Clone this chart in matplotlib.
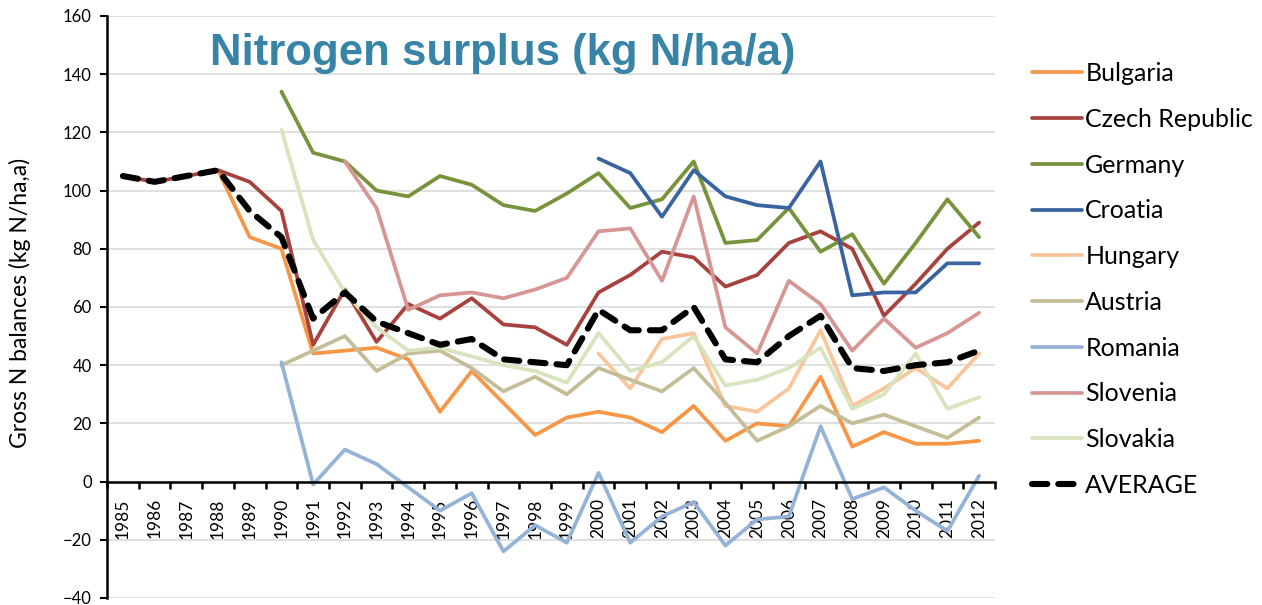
import numpy as np
import matplotlib
matplotlib.use("Agg")
import matplotlib.pyplot as plt

nan = np.nan

# years on the category axis
years = list(range(1985, 2013))

# values (kg N/ha/a)
bulgaria = [nan, nan, nan, 107, 84, 80, 44, 45, 46, 42, 24, 38, 27, 16, 22,
            24, 22, 17, 26, 14, 20, 19, 36, 12, 17, 13, 13, 14]
czech = [105, 103, 105, 107, 103, 93, 47, 66, 48, 61, 56, 63, 54, 53, 47,
         65, 71, 79, 77, 67, 71, 82, 86, 80, 57, 68, 80, 89]
germany = [nan, nan, nan, nan, nan, 134, 113, 110, 100, 98, 105, 102, 95, 93, 99,
           106, 94, 97, 110, 82, 83, 94, 79, 85, 68, 82, 97, 84]
croatia = [nan] * 15 + [111, 106, 91, 107, 98, 95, 94, 110, 64, 65, 65, 75, 75]
hungary = [nan] * 15 + [44, 32, 49, 51, 26, 24, 32, 52, 26, 32, 39, 32, 44]
austria = [nan, nan, nan, nan, nan, 40, 45, 50, 38, 44, 45, 39, 31, 36, 30,
           39, 35, 31, 39, 27, 14, 19, 26, 20, 23, 19, 15, 22]
romania = [nan, nan, nan, nan, nan, 41, -1, 11, 6, -2, -10, -4, -24, -15, -21,
           3, -21, -12, -7, -22, -13, -12, 19, -6, -2, -10, -17, 2]
slovenia = [nan] * 7 + [110, 94, 59, 64, 65, 63, 66, 70,
                        86, 87, 69, 98, 53, 44, 69, 61, 45, 56, 46, 51, 58]
slovakia = [nan, nan, nan, nan, nan, 121, 83, 65, 53, 45, 46, 43, 40, 38, 34,
            51, 38, 41, 50, 33, 35, 39, 46, 25, 30, 44, 25, 29]
average = [105, 103, 105, 107, 93, 84, 56, 65, 55, 51, 47, 49, 42, 41, 40,
           59, 52, 52, 60, 42, 41, 50, 57, 39, 38, 40, 41, 45]

series = [
    ("Bulgaria", bulgaria, "#F79646"),
    ("Czech Republic", czech, "#A8423F"),
    ("Germany", germany, "#77933C"),
    ("Croatia", croatia, "#3A64A0"),
    ("Hungary", hungary, "#FAC59A"),
    ("Austria", austria, "#C4BD97"),
    ("Romania", romania, "#95B3D7"),
    ("Slovenia", slovenia, "#D69694"),
    ("Slovakia", slovakia, "#D7E4BD"),
]

plt.rcParams['font.family'] = ['Lato', 'DejaVu Sans']

fig = plt.figure(figsize=(12.62, 6.05), dpi=100)
ax = fig.add_axes([0.0848, 0.0116, 0.7036, 0.962])

x = np.arange(len(years))
for name, vals, col in series:
    ax.plot(x, vals, color=col, lw=2.7, label=name, solid_capstyle='round',
            solid_joinstyle='round')
ax.plot(x, average, color='black', lw=4.4, linestyle=(0, (2.5, 1.8)),
        dash_capstyle='round', label="AVERAGE")

ax.set_xlim(-0.5, len(years) - 0.5)
ax.set_ylim(-40, 160)
ax.set_yticks(range(-40, 161, 20))
ax.yaxis.grid(True, color='#DADADA', lw=1.2)
ax.set_axisbelow(True)
ax.tick_params(axis='y', labelsize=12, length=5, width=1.5, direction='out', pad=6)

ax.spines['bottom'].set_position(('data', 0))
ax.spines['bottom'].set_linewidth(1.8)
ax.spines['left'].set_linewidth(1.8)
ax.spines['top'].set_visible(False)
ax.spines['right'].set_visible(False)

ax.set_xticks(x)
ax.set_xticklabels([str(y) for y in years], rotation=90, fontsize=12.5)
ax.set_xticks(np.arange(-0.5, len(years), 1), minor=True)
ax.tick_params(axis='x', which='major', length=0, pad=12)
ax.tick_params(axis='x', which='minor', length=5, width=1.8, direction='out')

ax.set_ylabel("Gross N balances (kg N/ha,a)", fontsize=16.5, va='center')
ax.yaxis.set_label_coords(-0.098, 0.507)

fig.text(503 / 1262, 1 - 54 / 605, "Nitrogen surplus (kg N/ha/a)",
         ha='center', va='center', fontsize=31.5, fontweight='bold', color='#3784A8',
         family=['Liberation Sans Narrow', 'Liberation Sans', 'DejaVu Sans'])

ax.legend(loc='upper left', bbox_to_anchor=(1.03, 0.938), frameon=False,
          fontsize=18, handlelength=2.0, labelspacing=0.91, handletextpad=0.15,
          borderaxespad=0)

fig.savefig("out.png", dpi=100)
